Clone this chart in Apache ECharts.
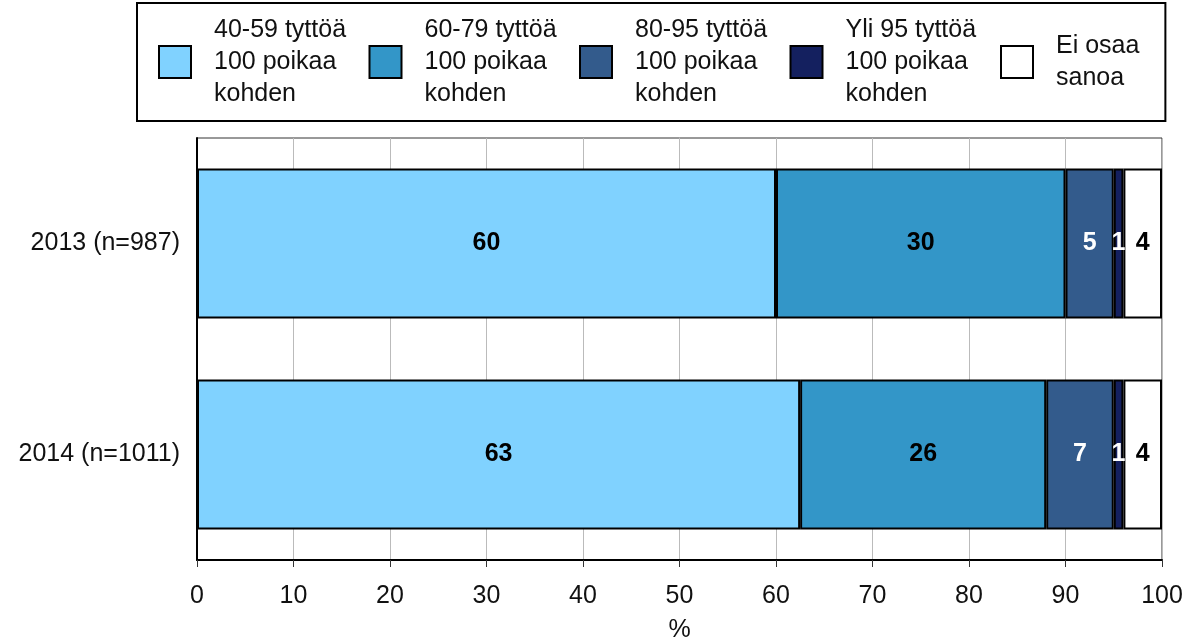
<!DOCTYPE html>
<html>
<head>
<meta charset="utf-8">
<script src="https://cdn.jsdelivr.net/npm/echarts@6/dist/echarts.min.js"></script>
<style>html,body{margin:0;padding:0;background:#fff}#c{width:1194px;height:641px}</style>
</head>
<body>
<div id="c"></div>
<script>
const categories = ['2013 (n=987)', '2014 (n=1011)'];
const seriesNames = ['40-59 tyttöä\n100 poikaa\nkohden', '60-79 tyttöä\n100 poikaa\nkohden', '80-95 tyttöä\n100 poikaa\nkohden', 'Yli 95 tyttöä\n100 poikaa\nkohden', 'Ei osaa\nsanoa'];
const s4059 = [60, 62.5];
const s6079 = [30, 25.5];
const s8095 = [5, 7];
const sYli95 = [1, 1];
const sEiOsaa = [4, 4];
const xTicks = [0, 10, 20, 30, 40, 50, 60, 70, 80, 90, 100];

const colors = ['#80D2FF', '#3396C8', '#335B8C', '#14205F', '#FFFFFF'];
const labelColors = ['#000', '#000', '#fff', '#fff', '#000'];
const allData = [s4059, s6079, s8095, sYli95, sEiOsaa];

const chart = echarts.init(document.getElementById('c'), null, {renderer: 'canvas'});
const font = 'Liberation Sans, Arial, sans-serif';
chart.setOption({
  animation: false,
  textStyle: {fontFamily: font},
  legend: {
    left: 137, top: 3,
    padding: [11, 26, 11, 21],
    borderColor: '#000', borderWidth: 2,
    itemWidth: 32, itemHeight: 32, itemGap: 18.5,
    icon: 'rect',
    itemStyle: {borderColor: '#000', borderWidth: 2},
    textStyle: {fontSize: 25, lineHeight: 32, color: '#111', fontFamily: font,
      rich: {
        a: {fontSize: 25, lineHeight: 32, color: '#111', fontFamily: font, width: 136, padding: [0, 0, 0, 18]},
        b: {fontSize: 25, lineHeight: 32, color: '#111', fontFamily: font, padding: [0, 0, 0, 18]}
      }
    },
    formatter: name => {
      const st = name === seriesNames[seriesNames.length - 1] ? 'b' : 'a';
      return name.split('\n').map(l => '{' + st + '|' + l + '}').join('\n');
    },
    data: seriesNames
  },
  grid: {left: 197, right: 32, top: 138, bottom: 81, show: true, borderColor: '#333', borderWidth: 1, backgroundColor: 'transparent', outerBoundsMode: 'none'},
  xAxis: {
    type: 'value', min: 0, max: 100, interval: 10,
    name: '%', nameLocation: 'middle', nameGap: 58,
    nameTextStyle: {fontSize: 25, color: '#111', fontFamily: font},
    axisLine: {show: true, lineStyle: {color: '#000', width: 2}},
    axisTick: {show: true, length: 7, lineStyle: {color: '#333', width: 1}},
    axisLabel: {fontSize: 25, color: '#111', margin: 24, fontFamily: font,
      formatter: v => xTicks.includes(v) ? String(v) : ''},
    splitLine: {show: true, lineStyle: {color: '#bbb', width: 1}}
  },
  yAxis: {
    type: 'category', data: categories, inverse: true,
    axisLine: {show: true, lineStyle: {color: '#000', width: 2}},
    axisTick: {show: false},
    axisLabel: {fontSize: 25, color: '#111', margin: 17, fontFamily: font},
    splitLine: {show: false}
  },
  series: seriesNames.map((n, i) => ({
    name: n, type: 'bar', stack: 'total', barWidth: 150,
    data: allData[i],
    itemStyle: {color: colors[i], borderColor: '#000', borderWidth: 2},
    label: {show: true, position: 'inside', fontSize: 25, fontWeight: 'bold', color: labelColors[i], fontFamily: font,
      formatter: p => String(Math.round(p.value))}
  }))
});
</script>
</body>
</html>
